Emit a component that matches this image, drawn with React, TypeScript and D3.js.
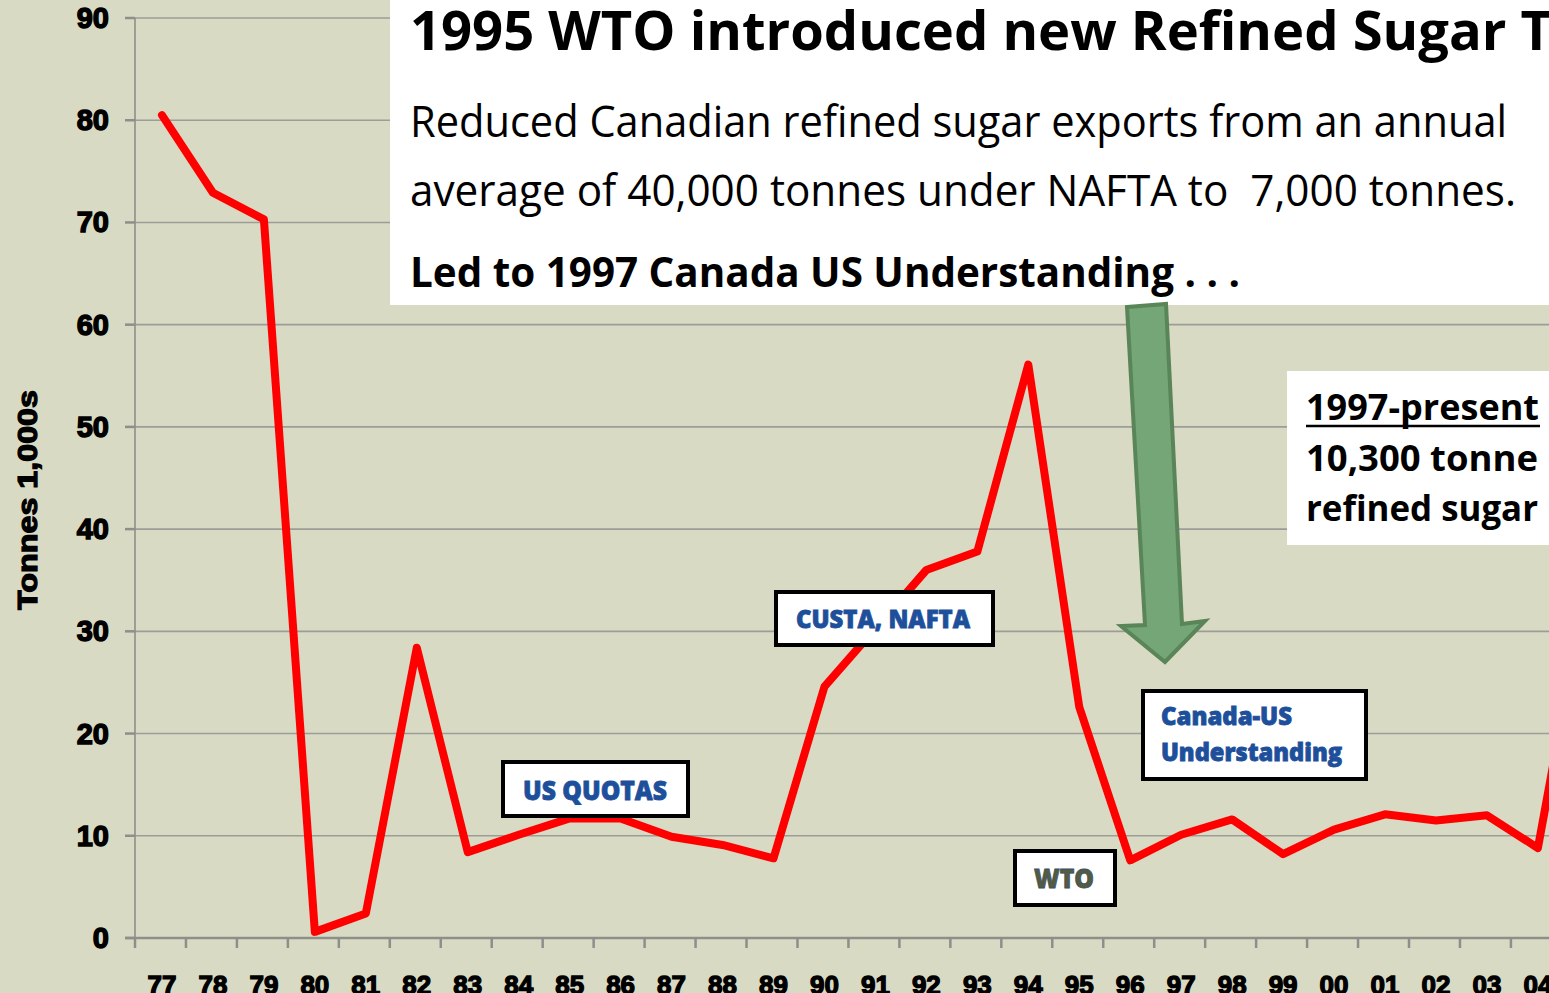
import React from "react";
import * as d3 from "d3";

const categories = ["77","78","79","80","81","82","83","84","85","86","87","88","89","90","91","92","93","94","95","96","97","98","99","00","01","02","03","04","05"];
const exportsK = [80.5,72.9,70.3,0.6,2.4,28.4,8.4,10.1,11.7,11.7,9.9,9.1,7.8,24.6,30.3,36.0,37.8,56.1,22.6,7.6,10.1,11.6,8.2,10.6,12.1,11.5,12.0,8.8,36];
const yTicks = [0,10,20,30,40,50,60,70,80,90];

const titleLines = [
  { text: "1995 WTO introduced new Refined Sugar T", y: 50, size: 53, weight: 700, len: 1142 },
  { text: "Reduced Canadian refined sugar exports from an annual", y: 137, size: 43, weight: 400, len: 1097 },
  { text: "average of 40,000 tonnes under NAFTA to  7,000 tonnes.", y: 206, size: 43, weight: 400, len: 1106 },
  { text: "Led to 1997 Canada US Understanding . . .", y: 287, size: 42, weight: 700, len: 830 },
];

const W = 1549, H = 993;
const FONT = "'Open Sans', 'Noto Sans', sans-serif";
const AXFONT = "'Liberation Sans', Arial, sans-serif";

export default function App() {
  const x = d3.scaleBand<string>().domain(categories).range([135, 135 + categories.length * 50.96]).paddingInner(0).paddingOuter(0);
  const y = d3.scaleLinear().domain([0, 90]).range([938, 18]);
  const cx = (c: string) => (x(c) as number) + x.bandwidth() / 2 + 1.5;
  const line = d3.line<number>().x((_, i) => cx(categories[i])).y((v) => y(v)).curve(d3.curveLinear);
  const tickXs = categories.map((c) => x(c) as number);

  const boxText = "#1d4f9b";

  return (
    <svg width={W} height={H} style={{ position: "absolute", left: 0, top: 0, display: "block" }}>
      <rect x={0} y={0} width={W} height={H} fill="#d9dac3" />
      {/* gridlines */}
      {yTicks.slice(1).map((t) => (
        <line key={t} x1={135} x2={W} y1={y(t)} y2={y(t)} stroke="#9c9c98" strokeWidth={1.6} />
      ))}
      {/* left axis */}
      <line x1={135} x2={135} y1={y(90)} y2={y(0)} stroke="#8e8e8a" strokeWidth={1.6} />
      {yTicks.map((t) => (
        <g key={"yt" + t}>
          <line x1={125} x2={135} y1={y(t)} y2={y(t)} stroke="#8e8e8a" strokeWidth={2.5} />
          <text x={109} y={y(t) + 10} textAnchor="end" fontFamily={AXFONT} fontWeight={700} fontSize={29} fill="#000" stroke="#000" strokeWidth={1.4}>{t}</text>
        </g>
      ))}
      {/* bottom axis */}
      <line x1={125} x2={W} y1={y(0)} y2={y(0)} stroke="#8e8e8a" strokeWidth={2.6} />
      {tickXs.map((tx, i) => (
        <line key={"xt" + i} x1={tx} x2={tx} y1={y(0)} y2={y(0) + 10} stroke="#8e8e8a" strokeWidth={2.5} />
      ))}
      {categories.map((c) => (
        <text key={"xl" + c} x={cx(c)} y={994} textAnchor="middle" fontFamily={AXFONT} fontWeight={700} fontSize={26} fill="#000" stroke="#000" strokeWidth={1.3}>{c}</text>
      ))}
      <text transform="translate(37,500) rotate(-90)" textAnchor="middle" fontFamily={AXFONT} fontWeight={700} fontSize={27} textLength={220} lengthAdjust="spacingAndGlyphs" fill="#000" stroke="#000" strokeWidth={1.2}>Tonnes 1,000s</text>

      {/* data line */}
      <path d={line(exportsK) || ""} fill="none" stroke="#ff0000" strokeWidth={8} strokeLinejoin="round" strokeLinecap="round" />

      {/* top white text box */}
      <rect x={390} y={0} width={W - 390} height={305} fill="#ffffff" />
      {titleLines.map((l, i) => (
        <text key={"tl" + i} x={410} y={l.y} fontFamily={FONT} fontWeight={l.weight} fontSize={l.size} fill="#000" textLength={l.len} lengthAdjust="spacingAndGlyphs" style={{ whiteSpace: "pre" }}>{l.text}</text>
      ))}

      {/* green arrow */}
      <path d="M1127,307 L1166,304 L1182,624 L1205,621 L1165,662 L1121,626 L1145,625 Z" fill="#74a677" stroke="#5a8559" strokeWidth={4} strokeLinejoin="miter" />

      {/* right box */}
      <rect x={1287} y={371} width={W - 1287} height={174} fill="#ffffff" />
      <text x={1306} y={420} fontFamily={FONT} fontWeight={700} fontSize={35} fill="#000" textLength={233} lengthAdjust="spacingAndGlyphs">1997-present</text>
      <line x1={1306} x2={1540} y1={426} y2={426} stroke="#000" strokeWidth={2.5} />
      <text x={1306} y={471} fontFamily={FONT} fontWeight={700} fontSize={35} fill="#000" textLength={232} lengthAdjust="spacingAndGlyphs">10,300 tonne</text>
      <text x={1306} y={521} fontFamily={FONT} fontWeight={700} fontSize={35} fill="#000" textLength={232} lengthAdjust="spacingAndGlyphs">refined sugar</text>

      {/* annotation boxes */}
      <rect x={503} y={762} width={185} height={54} fill="#fff" stroke="#000" strokeWidth={4} />
      <text x={523} y={800} fontFamily={FONT} fontWeight={800} fontSize={27} fill={boxText} stroke={boxText} strokeWidth={0.8} textLength={144} lengthAdjust="spacingAndGlyphs">US QUOTAS</text>

      <rect x={776} y={592} width={217} height={53} fill="#fff" stroke="#000" strokeWidth={4} />
      <text x={796} y={628} fontFamily={FONT} fontWeight={800} fontSize={25} fill={boxText} stroke={boxText} strokeWidth={0.8} textLength={174} lengthAdjust="spacingAndGlyphs">CUSTA, NAFTA</text>

      <rect x={1015} y={851} width={100} height={54} fill="#fff" stroke="#000" strokeWidth={4} />
      <text x={1034} y={888} fontFamily={FONT} fontWeight={800} fontSize={27} fill="#515c40" stroke="#3d4e6a" strokeWidth={0.8} textLength={60} lengthAdjust="spacingAndGlyphs">WTO</text>

      <rect x={1143} y={691} width={223} height={88} fill="#fff" stroke="#000" strokeWidth={4} />
      <text x={1161} y={725} fontFamily={FONT} fontWeight={800} fontSize={24} fill={boxText} stroke={boxText} strokeWidth={0.8} textLength={131} lengthAdjust="spacingAndGlyphs">Canada-US</text>
      <text x={1161} y={761} fontFamily={FONT} fontWeight={800} fontSize={24} fill={boxText} stroke={boxText} strokeWidth={0.8} textLength={181} lengthAdjust="spacingAndGlyphs">Understanding</text>
    </svg>
  );
}
